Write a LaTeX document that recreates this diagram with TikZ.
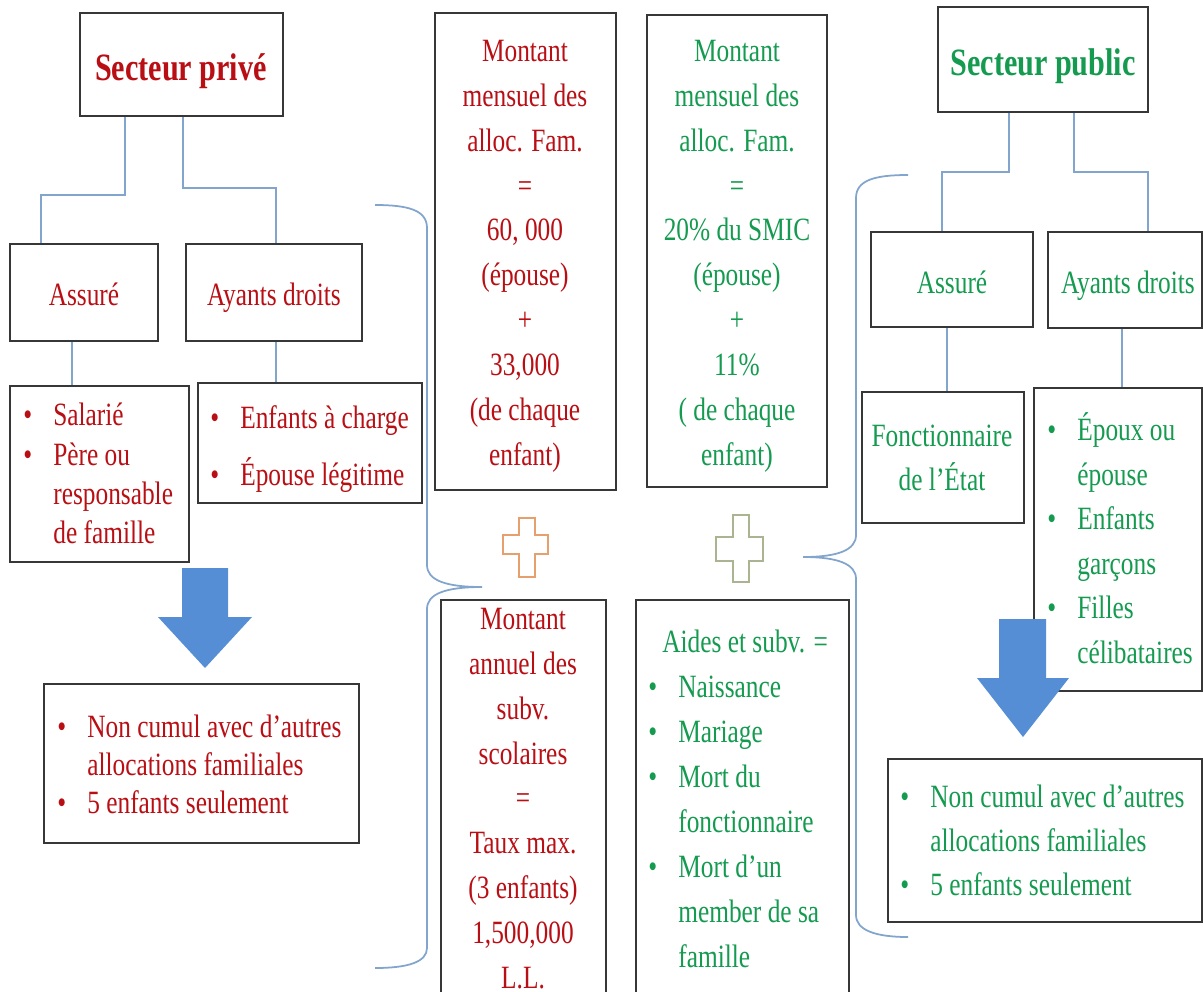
\documentclass[tikz,border=0pt]{standalone}
\usepackage{fontspec}
\setmainfont{Liberation Serif}[FakeStretch=0.78]
\usetikzlibrary{fit}
\definecolor{txtred}{RGB}{185,15,20}
\definecolor{txtgreen}{RGB}{20,155,80}
\definecolor{boxline}{RGB}{55,55,55}
\definecolor{linkblue}{RGB}{130,165,205}
\definecolor{arrowblue}{RGB}{85,142,213}
\definecolor{plusorange}{RGB}{230,160,110}
\definecolor{plusolive}{RGB}{170,180,145}
\newcommand{\bul}{\makebox[0.6cm][l]{•}}
\newcommand{\ind}{\makebox[0.6cm][l]{}}
\tikzset{
  box/.style={draw=boxline, line width=1.1pt, fill=white, inner sep=0pt, rectangle},
  link/.style={draw=linkblue, line width=0.9pt},
  brace/.style={draw=linkblue, line width=1pt},
  txt/.style={inner sep=0pt, anchor=base, align=center, font=\fontsize{18.5}{25.5}\selectfont},
  ltxt/.style={inner sep=0pt, anchor=base west, align=left, font=\fontsize{18.5}{25.5}\selectfont},
  head/.style={inner sep=0pt, anchor=base, font=\bfseries\fontsize{22}{26}\selectfont},
  bigarrow/.style={fill=arrowblue},
}
\begin{document}
\begin{tikzpicture}[x=0.02cm, y=-0.02cm]
\useasboundingbox (0,0) rectangle (1203,991);

% ---------- braces ----------
\draw[brace] (375,205) .. controls (408,205) and (427,210) .. (427,228)
  -- (427,565) .. controls (427,580) and (445,587) .. (482,587)
  .. controls (445,587) and (427,594) .. (427,609)
  -- (427,948) .. controls (427,962) and (408,968) .. (375,968);
\draw[brace] (908,175) .. controls (875,175) and (856,180) .. (856,198)
  -- (856,535) .. controls (856,550) and (838,557) .. (803,557)
  .. controls (838,557) and (856,564) .. (856,579)
  -- (856,915) .. controls (856,930) and (875,937) .. (908,937);

% ---------- private sector boxes ----------
\node[box, fit={(80,13) (283,116)}] (privH) {};
\node[box, fit={(10,244) (158,341)}] (assP) {};
\node[box, fit={(186,244) (362,341)}] (ayP) {};
\node[box, fit={(10,386) (189,562)}] (salP) {};
\node[box, fit={(198,383) (422,503)}] (enfP) {};
\node[box, fit={(44,684) (359,843)}] (nonP) {};

% ---------- middle boxes ----------
\node[box, fit={(435,13) (616,490)}] (mensR) {};
\node[box, fit={(647,15) (827,487)}] (mensG) {};
\node[box, fit={(441,600) (606,1010)}] (annR) {};
\node[box, fit={(636,600) (849,1010)}] (aidG) {};

% ---------- public sector boxes ----------
\node[box, fit={(938,7) (1148,112)}] (pubH) {};
\node[box, fit={(871,232) (1033,327)}] (assG) {};
\node[box, fit={(1048,232) (1202,328)}] (ayG) {};
\node[box, fit={(862,392) (1024,523)}] (fonG) {};
\node[box, fit={(1034,388) (1202,691)}] (epxG) {};
\node[box, fit={(888,759) (1202,922)}] (nonG) {};

% ---------- tree connectors ----------
\draw[link] (privH.south -| 125,0) |- (41,195) -- (assP.north -| 41,0);
\draw[link] (privH.south -| 183,0) |- (276,188) -- (ayP.north -| 276,0);
\draw[link] (assP.south -| 72,0) -- (salP.north -| 72,0);
\draw[link] (ayP.south -| 276,0) -- (enfP.north -| 276,0);
\draw[link] (pubH.south -| 1009,0) |- (942,172) -- (assG.north -| 942,0);
\draw[link] (pubH.south -| 1074,0) |- (1148,172) -- (ayG.north -| 1148,0);
\draw[link] (assG.south -| 947,0) -- (fonG.north -| 947,0);
\draw[link] (ayG.south -| 1122,0) -- (epxG.north -| 1122,0);

% ---------- block arrows ----------
\fill[bigarrow] (182,568) -- (228,568) -- (228,617) -- (252,617) -- (205,668)
  -- (158,617) -- (182,617) -- cycle;
\fill[bigarrow] (999,619) -- (1046,619) -- (1046,678) -- (1069,678) -- (1023,737)
  -- (977,678) -- (999,678) -- cycle;

% ---------- plus signs ----------
\draw[plusorange, line width=1pt] (519,518) -- (535,518) -- (535,535) -- (548,535)
  -- (548,554) -- (535,554) -- (535,577) -- (519,577) -- (519,554) -- (503,554)
  -- (503,535) -- (519,535) -- cycle;
\draw[plusolive, line width=1pt] (733,515) -- (749,515) -- (749,537) -- (763,537)
  -- (763,561) -- (749,561) -- (749,582) -- (733,582) -- (733,561) -- (716,561)
  -- (716,537) -- (733,537) -- cycle;

% ---------- private sector texts (multi-line nodes sit on their last baseline) ----------
\node[head, text=txtred] (privT) at (181,80) {Secteur privé};
\node[txt, text=txtred] (assPT) at (84,305) {Assuré};
\node[txt, text=txtred] (ayPT) at (274,305) {Ayants droits};
\node[ltxt, text=txtred, font=\fontsize{18.5}{22.2}\selectfont] (salPT) at (23,543)
  {\bul Salarié\\ \bul Père ou\\ \ind responsable\\ \ind de famille};
\node[ltxt, text=txtred, font=\fontsize{18.5}{32.4}\selectfont] (enfPT) at (210,485)
  {\bul Enfants à charge\\ \bul Épouse légitime};
\node[ltxt, text=txtred, font=\fontsize{18.5}{21.6}\selectfont] (nonPT) at (57,813)
  {\bul Non cumul avec d’autres\\ \ind allocations familiales\\ \bul 5 enfants seulement};
\node[txt, text=txtred] (mensRT) at (525,465)
  {Montant\\ mensuel des\\ alloc. Fam.\\ =\\ 60, 000\\ (épouse)\\ +\\ 33,000\\ (de chaque\\ enfant)};
\node[txt, text=txtred] (annRT) at (523,988)
  {Montant\\ annuel des\\ subv.\\ scolaires\\ =\\ Taux max.\\ (3 enfants)\\ 1,500,000\\ L.L.};

% ---------- public sector texts ----------
\node[head, text=txtgreen] (pubT) at (1043,75) {Secteur public};
\node[txt, text=txtgreen] (assGT) at (952,293) {Assuré};
\node[txt, text=txtgreen] (ayGT) at (1128,293) {Ayants droits};
\node[txt, text=txtgreen, font=\fontsize{18.5}{25}\selectfont] (fonGT) at (942,490)
  {Fonctionnaire\\ de l’État};
\node[ltxt, text=txtgreen, font=\fontsize{18.5}{25.3}\selectfont] (epxGT) at (1047,663)
  {\bul Époux ou\\ \ind épouse\\ \bul Enfants\\ \ind garçons\\ \bul Filles\\ \ind célibataires};
\node[ltxt, text=txtgreen, font=\fontsize{18.5}{25}\selectfont] (nonGT) at (900,895)
  {\bul Non cumul avec d’autres\\ \ind allocations familiales\\ \bul 5 enfants seulement};
\node[txt, text=txtgreen] (mensGT) at (737,465)
  {Montant\\ mensuel des\\ alloc. Fam.\\ =\\ 20\% du SMIC\\ (épouse)\\ +\\ 11\%\\ ( de chaque\\ enfant)};
\node[ltxt, text=txtgreen, font=\fontsize{18.5}{25.6}\selectfont] (aidGT) at (648,967)
  {\makebox[0.28cm][l]{}Aides et subv. =\\ \bul Naissance\\ \bul Mariage\\ \bul Mort du\\ \ind fonctionnaire\\ \bul Mort d’un\\ \ind member de sa\\ \ind famille};
\end{tikzpicture}
\end{document}
